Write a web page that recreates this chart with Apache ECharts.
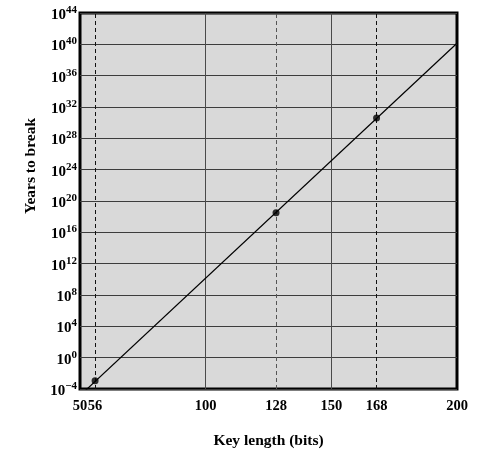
<!DOCTYPE html>
<html>
<head>
<meta charset="utf-8">
<script src="https://cdn.jsdelivr.net/npm/echarts@6/dist/echarts.min.js"></script>
<style>html,body{margin:0;padding:0;background:#fff}#c{width:482px;height:449px}</style>
</head>
<body>
<div id="c"></div>
<script>
// Key lengths (bits) of marked ciphers
var keyLengths = [56, 128, 168];
// Years to break
var yearsToBreak = [1.15e-3, 3.2e18, 3.9e30];
// Trend line end points [bits, years]
var trendBits = [50, 200];
var trendYears = [1.45e-5, 1.4e40];
// Tick labels on x axis
var xTicks = [50, 56, 100, 128, 150, 168, 200];
// Vertical reference lines
var solidLinesX = [100, 150];
var dashedLinesX = [56, 128, 168];

var FONT = '"Liberation Serif", "Times New Roman", serif';
var chart = echarts.init(document.getElementById('c'), null, {renderer: 'canvas'});

var trendData = trendBits.map(function (b, i) { return [b, trendYears[i]]; });
var pointData = keyLengths.map(function (b, i) { return [b, yearsToBreak[i]]; });

var markData = solidLinesX.map(function (v) {
  return {xAxis: v, lineStyle: {type: 'solid', color: '#4a4a4a', width: 1}};
}).concat(dashedLinesX.map(function (v, i) {
  return {xAxis: v, lineStyle: {type: [4, 3], color: i === 1 ? '#555' : '#111', width: 1}};
}));

chart.setOption({
  animation: false,
  grid: {
    left: 80, right: 25, top: 13, bottom: 60,
    outerBoundsMode: 'none', containLabel: false,
    show: true, backgroundColor: '#d9d9d9', borderColor: '#000', borderWidth: 3
  },
  xAxis: {
    type: 'value', min: 50, max: 200,
    name: 'Key length (bits)', nameLocation: 'middle', nameGap: 44,
    nameTextStyle: {fontFamily: FONT, fontWeight: 'bold', fontSize: 15.5, color: '#000'},
    axisLine: {show: false}, axisTick: {show: false}, splitLine: {show: false},
    axisLabel: {
      customValues: xTicks, margin: 10,
      fontFamily: FONT, fontWeight: 'bold', fontSize: 14.5, color: '#000'
    }
  },
  yAxis: {
    type: 'log', logBase: 10, min: 1e-4, max: 1e44, interval: 4,
    name: 'Years to break', nameLocation: 'middle', nameGap: 40, nameRotate: 90,
    nameTextStyle: {fontFamily: FONT, fontWeight: 'bold', fontSize: 15.5, color: '#000', padding: [0, 0, 0, 70]},
    axisLine: {show: false}, axisTick: {show: false},
    splitLine: {show: true, lineStyle: {color: '#3c3c3c', width: 1}},
    axisLabel: {
      margin: 3,
      formatter: function (v) {
        var e = Math.round(Math.log10(v));
        return '{b|10}{s|' + (e < 0 ? '\u2212' + (-e) : e) + '}';
      },
      rich: {
        b: {fontFamily: FONT, fontWeight: 'bold', fontSize: 15, color: '#000', padding: [4, 0, 0, 0]},
        s: {fontFamily: FONT, fontWeight: 'bold', fontSize: 11, color: '#000', padding: [0, 0, 6, 0]}
      }
    }
  },
  series: [
    {
      type: 'line', data: trendData, showSymbol: false, symbol: 'none', clip: true,
      lineStyle: {color: '#000', width: 1.2}, z: 3,
      markLine: {silent: true, symbol: 'none', label: {show: false}, data: markData, z: 1}
    },
    {
      type: 'scatter', data: pointData, symbol: 'circle', symbolSize: 7,
      itemStyle: {color: '#000'}, z: 4
    }
  ]
});
</script>
</body>
</html>
